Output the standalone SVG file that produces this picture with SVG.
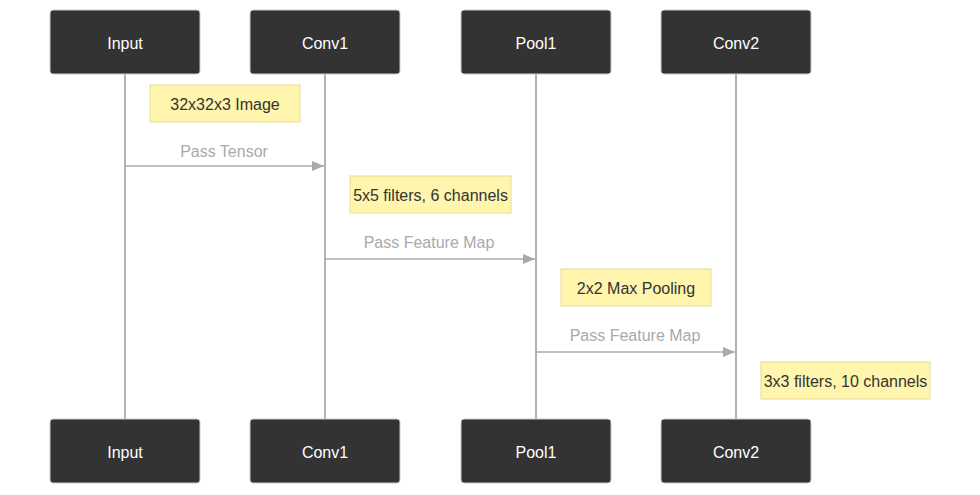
<svg xmlns="http://www.w3.org/2000/svg" width="980" height="495" viewBox="0 0 980 495">
<style>
  .actor rect { fill: #333333; stroke: #cccccc; stroke-width: 1; }
  .actor text { fill: #ffffff; font-family: "Liberation Sans", Arial, sans-serif; font-size: 16px; text-anchor: middle; dominant-baseline: central; }
  .life { stroke: #999999; stroke-width: 1.5; }
  .note rect { fill: #fff5ad; stroke: #e6dc96; stroke-width: 1; }
  .note text { fill: #333333; font-family: "Liberation Sans", Arial, sans-serif; font-size: 16px; text-anchor: middle; dominant-baseline: central; }
  .msg line { stroke: #aaaaaa; stroke-width: 1.5; }
  .msg text { fill: #aaaaaa; font-family: "Liberation Sans", Arial, sans-serif; font-size: 16px; text-anchor: middle; }
</style>
<defs>
  <marker id="arrow" viewBox="0 0 12 10" refX="12" refY="5" markerWidth="12" markerHeight="10" markerUnits="userSpaceOnUse" orient="auto">
    <path d="M0,0 L12,5 L0,10 z" fill="#aaaaaa"/>
  </marker>
</defs>
<g id="lifelines">
  <line class="life" x1="125" y1="74" x2="125" y2="419"/>
  <line class="life" x1="325" y1="74" x2="325" y2="419"/>
  <line class="life" x1="536" y1="74" x2="536" y2="419"/>
  <line class="life" x1="736" y1="74" x2="736" y2="419"/>
</g>
<g id="input-top" class="actor"><rect x="50" y="10" width="150" height="64" rx="3"/><text x="125" y="43">Input</text></g>
<g id="conv1-top" class="actor"><rect x="250" y="10" width="150" height="64" rx="3"/><text x="325" y="43">Conv1</text></g>
<g id="pool1-top" class="actor"><rect x="461" y="10" width="150" height="64" rx="3"/><text x="536" y="43">Pool1</text></g>
<g id="conv2-top" class="actor"><rect x="661" y="10" width="150" height="64" rx="3"/><text x="736" y="43">Conv2</text></g>
<g id="input-bottom" class="actor"><rect x="50" y="419" width="150" height="64" rx="3"/><text x="125" y="452">Input</text></g>
<g id="conv1-bottom" class="actor"><rect x="250" y="419" width="150" height="64" rx="3"/><text x="325" y="452">Conv1</text></g>
<g id="pool1-bottom" class="actor"><rect x="461" y="419" width="150" height="64" rx="3"/><text x="536" y="452">Pool1</text></g>
<g id="conv2-bottom" class="actor"><rect x="661" y="419" width="150" height="64" rx="3"/><text x="736" y="452">Conv2</text></g>
<g id="note1" class="note"><rect x="150" y="85" width="150" height="37"/><text x="225" y="104">32x32x3 Image</text></g>
<g id="note2" class="note"><rect x="350" y="176" width="161" height="37"/><text x="430.5" y="195">5x5 filters, 6 channels</text></g>
<g id="note3" class="note"><rect x="561" y="269" width="150" height="37"/><text x="636" y="288">2x2 Max Pooling</text></g>
<g id="note4" class="note"><rect x="761" y="362" width="169" height="37"/><text x="845.5" y="381">3x3 filters, 10 channels</text></g>
<g id="connectors">
  <g class="msg"><line x1="125" y1="166" x2="324" y2="166" marker-end="url(#arrow)"/><text x="224" y="157">Pass Tensor</text></g>
  <g class="msg"><line x1="325" y1="259" x2="535" y2="259" marker-end="url(#arrow)"/><text x="429" y="248">Pass Feature Map</text></g>
  <g class="msg"><line x1="536" y1="352" x2="735" y2="352" marker-end="url(#arrow)"/><text x="635" y="341">Pass Feature Map</text></g>
</g>
</svg>
